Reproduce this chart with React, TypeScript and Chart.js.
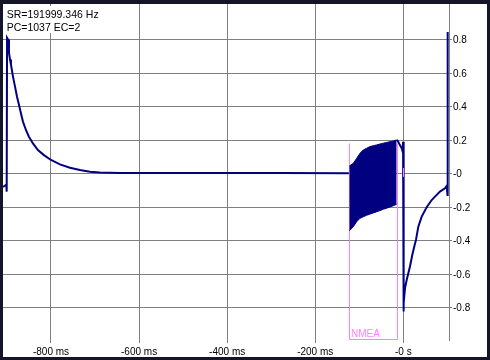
import { useEffect, useRef } from 'react';
import { Chart, registerables } from 'chart.js';

Chart.register(...registerables);

// ---- data ----
const xTickValues = [-800, -600, -400, -200, 0];
const xTickLabels = ['-800 ms', '-600 ms', '-400 ms', '-200 ms', '-0 s'];
const yTickValues = [0.8, 0.6, 0.4, 0.2, 0, -0.2, -0.4, -0.6, -0.8];
const yTickLabels = ['0.8', '0.6', '0.4', '0.2', '-0', '-0.2', '-0.4', '-0.6', '-0.8'];

const xMin = -909;
const xMax = 103.8;
const yMin = -0.9934;
const yMax = 1.0119;

const signalTimes = [
  -909, -905, -901.5, -900.6, -899.8, -897.6, -895.4, -893.1, -890.9, -886.4,
  -881.8, -877.3, -872.8, -868.3, -863.7, -856.9, -850.1, -841.0, -829.7, -816.1,
  -800.0, -779.7, -757.0, -734.3, -711.6, -688.9, -643.5, -461.9, -280.3, -123.4,
  -70, -15.0, -12.7, -9.1, -3.6, -1.4, -0.5, 0, 1.6, 3.9,
  7.7, 11.4, 15.2, 20.4, 25.0, 28.8, 34.1, 41.8, 53.1, 64.5,
  72.0, 83.3, 94.7, 98.5, 100.4, 100.8,
];
const signalValues: (number | null)[] = [
  -0.080, -0.073, -0.066, -0.108, 0.810, 0.800, 0.720, 0.680, 0.650, 0.580,
  0.520, 0.460, 0.410, 0.360, 0.310, 0.260, 0.220, 0.180, 0.140, 0.110,
  0.081, 0.055, 0.035, 0.021, 0.011, 0.006, 0.004, 0.003, 0.003, 0.002,
  null, 0.200, 0.196, 0.177, 0.151, 0.131, 0.190, -0.824, -0.774, -0.684,
  -0.635, -0.595, -0.555, -0.486, -0.436, -0.396, -0.317, -0.257, -0.201, -0.158,
  -0.138, -0.108, -0.088, -0.074, -0.128, 0.845,
];

// NMEA burst envelope
const burstTimes = [
  -122.6, -113.5, -105.8, -98.3, -90.8, -83.1, -75.6, -68.1, -60.4, -52.9,
  -45.4, -37.7, -30.2, -22.7, -15.0,
];
const burstUpper = [
  0.045, 0.061, 0.091, 0.121, 0.141, 0.151, 0.161, 0.166, 0.171, 0.176,
  0.181, 0.186, 0.190, 0.195, 0.200,
];
const burstLower = [
  -0.342, -0.317, -0.287, -0.267, -0.258, -0.249, -0.242, -0.235, -0.228, -0.221,
  -0.213, -0.207, -0.199, -0.192, -0.183,
];

const infoLines = ['SR=191999.346 Hz', 'PC=1037 EC=2'];
const nmeaLabel = 'NMEA';
const nmeaStart = -122.6;
const nmeaEnd = -13.6;
const nmeaTop = 0.183;
const markerTime = 0;
const markerTop = 0.033;
const markerBottom = -0.02;

const NAVY = '#000080';
const GRID = '#808080';
const PINK = '#ff80ff';
const FONT = 'Liberation Sans, Arial, sans-serif';

const overlayPlugin = {
  id: 'overlay',
  beforeDatasetsDraw(chart: any) {
    const { ctx, scales, chartArea } = chart;
    const x = scales.x;
    const y = scales.y;
    const l = Math.round(x.getPixelForValue(nmeaStart)) + 0.5;
    const r = Math.round(x.getPixelForValue(nmeaEnd)) + 0.5;
    const t = Math.round(y.getPixelForValue(nmeaTop)) + 0.5;
    const b = Math.round(chartArea.bottom) - 0.5;
    ctx.save();
    ctx.strokeStyle = PINK;
    ctx.lineWidth = 1;
    ctx.beginPath();
    ctx.moveTo(l, t);
    ctx.lineTo(l, b);
    ctx.lineTo(r, b);
    ctx.lineTo(r, t);
    ctx.stroke();
    ctx.fillStyle = PINK;
    ctx.font = `10px ${FONT}`;
    ctx.textBaseline = 'alphabetic';
    ctx.textAlign = 'left';
    ctx.fillText(nmeaLabel, l + 1.5, b - 3);
    ctx.restore();
  },
  afterDatasetsDraw(chart: any) {
    const { ctx, scales } = chart;
    const x = scales.x;
    const y = scales.y;
    ctx.save();
    // small marker at zero
    const mx = Math.round(x.getPixelForValue(markerTime)) + 0.5;
    ctx.strokeStyle = PINK;
    ctx.lineWidth = 1;
    ctx.beginPath();
    ctx.moveTo(mx, y.getPixelForValue(markerTop));
    ctx.lineTo(mx, y.getPixelForValue(markerBottom));
    ctx.stroke();
    // info text
    ctx.font = `10.5px ${FONT}`;
    ctx.textAlign = 'left';
    ctx.textBaseline = 'alphabetic';
    const w = Math.max(...infoLines.map((s) => ctx.measureText(s).width));
    ctx.fillStyle = '#ffffff';
    ctx.fillRect(2, 2, w + 4, 27);
    ctx.fillStyle = '#000000';
    infoLines.forEach((s, i) => ctx.fillText(s, 3.7, 14.3 + i * 12.4));
    ctx.restore();
  },
};

export default function App() {
  const ref = useRef<HTMLCanvasElement | null>(null);

  useEffect(() => {
    if (!ref.current) return;
    const signal = signalTimes.map((t, i) => ({ x: t, y: signalValues[i] }));
    const upper = burstTimes.map((t, i) => ({ x: t, y: burstUpper[i] }));
    const lower = burstTimes.map((t, i) => ({ x: t, y: burstLower[i] }));

    const chart = new Chart(ref.current, {
      type: 'line',
      data: {
        datasets: [
          {
            label: 'signal',
            data: signal as any,
            borderColor: NAVY,
            borderWidth: 2,
            pointRadius: 0,
            tension: 0,
            fill: false,
            spanGaps: false,
          },
          {
            label: 'burst upper',
            data: upper as any,
            borderColor: NAVY,
            backgroundColor: NAVY,
            borderWidth: 1,
            pointRadius: 0,
            tension: 0,
            fill: '+1',
          },
          {
            label: 'burst lower',
            data: lower as any,
            borderColor: NAVY,
            borderWidth: 1,
            pointRadius: 0,
            tension: 0,
            fill: false,
          },
        ],
      },
      options: {
        responsive: false,
        animation: false,
        devicePixelRatio: 1,
        parsing: false as any,
        normalized: true,
        layout: { padding: 0 },
        plugins: {
          legend: { display: false },
          tooltip: { enabled: false },
        },
        events: [],
        scales: {
          x: {
            type: 'linear',
            position: 'bottom',
            min: xMin,
            max: xMax,
            afterBuildTicks: (s: any) => {
              s.ticks = xTickValues.map((v) => ({ value: v }));
            },
            afterFit: (s: any) => {
              s.height = 17;
              s.paddingLeft = 0;
              s.paddingRight = 0;
            },
            grid: {
              color: GRID,
              tickColor: GRID,
              lineWidth: 1,
              drawTicks: true,
              tickLength: 3,
            },
            border: { display: false },
            ticks: {
              autoSkip: false,
              maxRotation: 0,
              padding: 3,
              color: '#000000',
              font: { family: FONT, size: 10 },
              callback: (v: any) => {
                const i = xTickValues.indexOf(Number(v));
                return i >= 0 ? xTickLabels[i] : '';
              },
            },
          },
          y: {
            type: 'linear',
            position: 'right',
            min: yMin,
            max: yMax,
            afterBuildTicks: (s: any) => {
              s.ticks = yTickValues.map((v) => ({ value: v }));
            },
            afterFit: (s: any) => {
              s.width = 38;
              s.paddingTop = 0;
              s.paddingBottom = 0;
            },
            grid: {
              color: GRID,
              tickColor: GRID,
              lineWidth: 1,
              drawTicks: true,
              tickLength: 3,
            },
            border: { display: true, color: GRID, width: 1 },
            ticks: {
              autoSkip: false,
              padding: 1,
              labelOffset: 1,
              color: '#000000',
              font: { family: FONT, size: 10 },
              callback: (v: any) => {
                const i = yTickValues.findIndex((t) => Math.abs(t - Number(v)) < 1e-9);
                return i >= 0 ? yTickLabels[i] : '';
              },
            },
          },
        },
      },
      plugins: [overlayPlugin],
    });
    return () => chart.destroy();
  }, []);

  return (
    <div
      style={{
        position: 'fixed',
        left: 0,
        top: 0,
        width: 490,
        height: 360,
        background: '#15152a',
      }}
    >
      <canvas
        ref={ref}
        width={484}
        height={353}
        style={{
          position: 'absolute',
          left: 3,
          top: 4,
          width: 484,
          height: 353,
          background: '#ffffff',
          display: 'block',
        }}
      />
    </div>
  );
}
